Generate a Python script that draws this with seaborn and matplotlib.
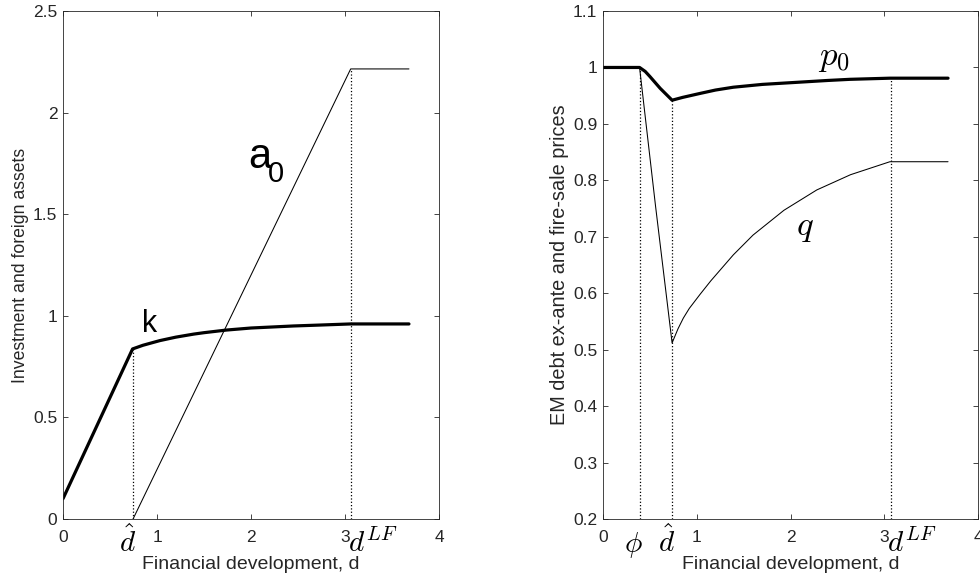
import numpy as np
import pandas as pd
import matplotlib
matplotlib.use("Agg")
import matplotlib.pyplot as plt
import matplotlib.transforms as mtransforms
from matplotlib.ticker import FuncFormatter
import seaborn as sns

# ---------------- data ----------------
phi = 0.39
d_hat = 0.74
d_LF = 3.06

# left panel
d_k = [0.0, 0.74, 0.85, 1.03, 1.2, 1.39, 1.5, 1.74, 2.0, 2.45, 2.7, 3.06, 3.68]
k_vals = [0.10, 0.837, 0.855, 0.878, 0.895, 0.910, 0.917, 0.930, 0.940, 0.950, 0.954, 0.960, 0.960]
d_a = [0.745, 3.06, 3.68]
a_vals = [0.0, 2.215, 2.215]

# right panel
d_p = [0.0, 0.39, 0.45, 0.50, 0.61, 0.737, 0.85, 1.035, 1.2, 1.39, 1.7, 2.10, 2.4, 2.635, 3.06, 3.68]
p_vals = [1.0, 1.0, 0.993, 0.984, 0.963, 0.942, 0.947, 0.954, 0.960, 0.965, 0.970, 0.974, 0.977, 0.979, 0.981, 0.981]
d_q = [0.39, 0.56, 0.737, 0.80, 0.857, 0.92, 1.035, 1.15, 1.39, 1.6, 1.93, 2.28, 2.64, 3.06, 3.68]
q_vals = [1.0, 0.755, 0.512, 0.537, 0.556, 0.573, 0.598, 0.622, 0.668, 0.703, 0.747, 0.783, 0.810, 0.833, 0.833]

left_yticks = [0, 0.5, 1, 1.5, 2, 2.5]
right_yticks = [0.2, 0.3, 0.4, 0.5, 0.6, 0.7, 0.8, 0.9, 1.0, 1.1]
xticks = [0, 1, 2, 3, 4]

# ---------------- style ----------------
sns.set_style("ticks")
plt.rcParams.update({
    "font.family": ["Liberation Sans", "DejaVu Sans"],
    "mathtext.fontset": "custom",
    "mathtext.rm": "Liberation Sans",
    "mathtext.it": "Liberation Sans:italic",
    "axes.edgecolor": "#262626",
    "axes.linewidth": 0.6,
    "xtick.color": "#262626",
    "ytick.color": "#262626",
    "xtick.direction": "in",
    "ytick.direction": "in",
    "xtick.top": True,
    "ytick.right": True,
    "xtick.major.size": 3.6,
    "ytick.major.size": 3.6,
    "xtick.major.width": 0.6,
    "ytick.major.width": 0.6,
})

fig = plt.figure(figsize=(9.8, 5.77), dpi=100)
axL = fig.add_axes([0.0643, 0.1005, 0.3837, 0.8804])
axR = fig.add_axes([0.6153, 0.1005, 0.3827, 0.8804])

thick = 2.3
thin = 0.75
fmt = FuncFormatter(lambda v, p: "%g" % v)
grey = "#262626"

# ---- left ----
sns.lineplot(x=d_a, y=a_vals, ax=axL, color="black", linewidth=thin, estimator=None, sort=False)
sns.lineplot(x=d_k, y=k_vals, ax=axL, color="black", linewidth=thick, estimator=None, sort=False)
k_at_hat = np.interp(d_hat, d_k, k_vals)
a_at_LF = np.interp(d_LF, d_a, a_vals)
axL.plot([d_hat, d_hat], [0, k_at_hat], color="black", linestyle=":", linewidth=0.9)
axL.plot([d_LF, d_LF], [0, a_at_LF], color="black", linestyle=":", linewidth=0.9)
axL.set_xlim(0, 4)
axL.set_ylim(0, 2.5)
axL.set_xticks(xticks)
axL.set_yticks(left_yticks)
axL.yaxis.set_major_formatter(fmt)
axL.set_ylabel("Investment and foreign assets", fontsize=12.7, color=grey, labelpad=3)
axL.set_xlabel("Financial development, d", fontsize=14, color=grey, labelpad=8)
axL.text(1.968, 1.727, "a", fontsize=30, color="black", va="baseline")
axL.text(2.18, 1.658, "0", fontsize=21, color="black", va="baseline")
axL.text(0.837, 0.92, "k", fontsize=22, color="black", va="baseline")

# ---- right ----
sns.lineplot(x=d_q, y=q_vals, ax=axR, color="black", linewidth=thin, estimator=None, sort=False)
sns.lineplot(x=d_p, y=p_vals, ax=axR, color="black", linewidth=thick, estimator=None, sort=False)
p_at_phi = np.interp(phi, d_p, p_vals)
p_at_hat = np.interp(0.737, d_p, p_vals)
p_at_LF = np.interp(d_LF, d_p, p_vals)
axR.plot([phi, phi], [0.2, p_at_phi], color="black", linestyle=":", linewidth=0.9)
axR.plot([0.737, 0.737], [0.2, p_at_hat], color="black", linestyle=":", linewidth=0.9)
axR.plot([d_LF + 0.01, d_LF + 0.01], [0.2, p_at_LF], color="black", linestyle=":", linewidth=0.9)
axR.set_xlim(0, 4)
axR.set_ylim(0.2, 1.1)
axR.set_xticks(xticks)
axR.set_yticks(right_yticks)
axR.yaxis.set_major_formatter(fmt)
axR.set_ylabel("EM debt ex-ante and fire-sale prices", fontsize=14.3, color=grey, labelpad=3)
axR.set_xlabel("Financial development, d", fontsize=14, color=grey, labelpad=8)
axR.text(2.29, 1.004, r"$p_0$", fontsize=25, color="black", va="baseline", math_fontfamily="cm")
axR.text(2.06, 0.703, r"$q$", fontsize=25, color="black", va="baseline", math_fontfamily="cm")

for ax in (axL, axR):
    ax.tick_params(axis="x", labelsize=12.5, pad=8)
    ax.tick_params(axis="y", labelsize=12.5, pad=4)
    for s in ax.spines.values():
        s.set_visible(True)

# special x labels
for ax, items in (
    (axL, [(d_hat - 0.05, r"$\hat{d}$", "center"), (d_LF - 0.03, r"$d^{LF}$", "left")]),
    (axR, [(0.32, r"$\phi$", "center"), (0.68, r"$\hat{d}$", "center"), (d_LF - 0.03, r"$d^{LF}$", "left")]),
):
    tr = mtransforms.blended_transform_factory(ax.transData, ax.transAxes)
    for xv, lab, ha in items:
        ax.text(xv, -0.065, lab, transform=tr, fontsize=21, ha=ha, va="baseline",
                math_fontfamily="cm", color="black", clip_on=False)

fig.savefig("out.png", dpi=100, facecolor="white")
